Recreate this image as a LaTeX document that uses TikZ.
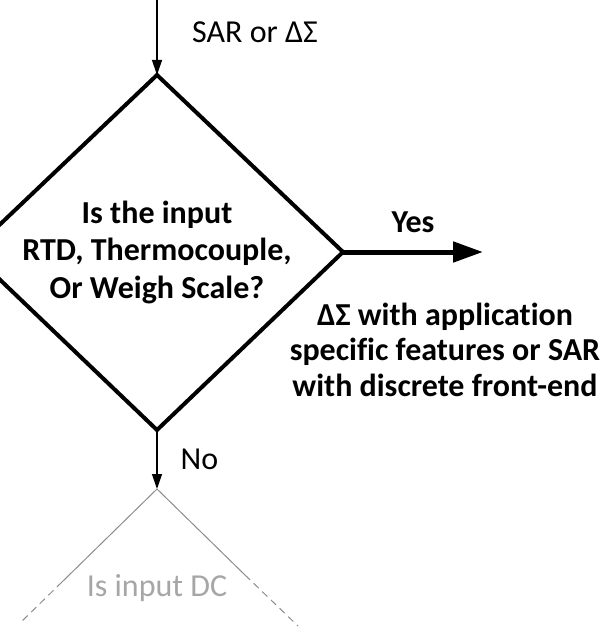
\documentclass[tikz,border=0pt]{standalone}
\usepackage{fontspec}
\setmainfont{Carlito}[Ligatures=NoCommon]
\usetikzlibrary{arrows.meta}

\definecolor{fadedtext}{RGB}{166,166,166}
\definecolor{fadedline}{RGB}{140,140,140}

\tikzset{
  decision/.style={draw,line width=4pt,line join=miter},
  qtext/.style={font=\bfseries\fontsize{32}{37.5}\selectfont,align=center,inner sep=0pt},
  answertext/.style={font=\bfseries\fontsize{32}{35.5}\selectfont,align=center,inner sep=0pt},
  plaintext/.style={font=\fontsize{32}{38}\selectfont,inner sep=0pt},
  flow/.style={line width=1.3pt,-{Triangle[length=15pt,width=10pt]}},
  bigflow/.style={line width=5pt,-{Triangle[length=30pt,width=20pt]}},
  ghost/.style={draw=fadedline,line width=1pt},
  ghosttext/.style={font=\fontsize{32}{38}\selectfont,text=fadedtext,inner sep=0pt}
}

\begin{document}
\begin{tikzpicture}[x=1pt,y=1pt]
\useasboundingbox (0,0) rectangle (611,-631);

\coordinate (in) at (157,0);
\coordinate (q1n) at (157,-75);
\coordinate (q1e) at (343,-252);
\coordinate (q1s) at (157,-430);
\coordinate (q1w) at (-29,-252);
\coordinate (yesend) at (483,-252);
\coordinate (q2) at (157,-489);

\draw[decision] (q1n) -- (q1e) -- (q1s) -- (q1w) -- cycle;
\node[qtext] (q1text) at (157,-252) {Is the input\\RTD, Thermocouple,\\Or Weigh Scale?};

\draw[flow] (in) -- (q1n);
\node[plaintext,anchor=base west] (adc) at (192,-43) {SAR or ΔΣ};

\draw[bigflow] (q1e) -- node[qtext,above=17pt] (yes) {Yes} (yesend);
\node[answertext,anchor=base] (answer) at (445,-396) {ΔΣ with application\\specific features or SAR\\with discrete front-end};

\draw[flow] (q1s) -- node[plaintext,right=23pt] (no) {No} (q2);

% next question, faded out
\draw[ghost] (q2) -- ++(-95,-93) coordinate (q2l);
\draw[ghost,dash pattern=on 7pt off 5pt] (q2l) -- ++(-42,-41);
\draw[ghost] (q2) -- ++(88,-86) coordinate (q2r);
\draw[ghost,dash pattern=on 7pt off 5pt] (q2r) -- ++(53,-51);
\node[ghosttext,anchor=base] (q2text) at (157,-596) {Is input DC};
\end{tikzpicture}
\end{document}
